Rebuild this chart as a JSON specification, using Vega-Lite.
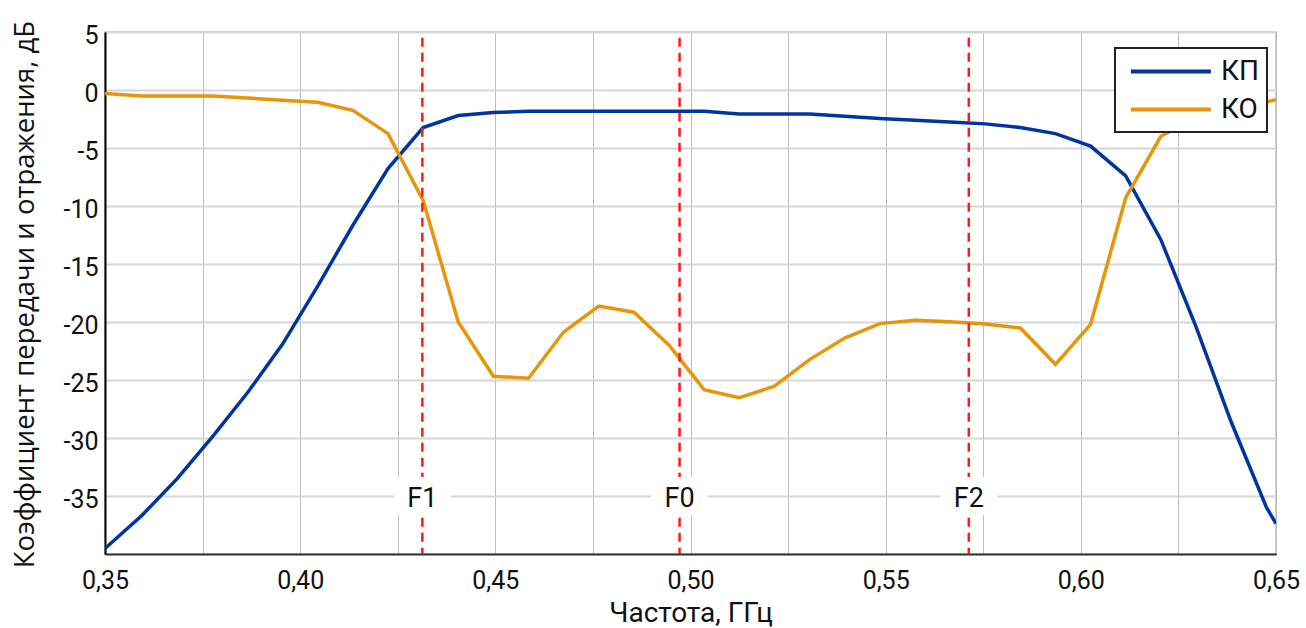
{
  "$schema": "https://vega.github.io/schema/vega-lite/v6.json",
  "width": 1171,
  "height": 522,
  "autosize": {"type": "none"},
  "padding": {"left": 105, "top": 32, "right": 30, "bottom": 74},
  "background": "white",
  "datasets": {
    "curves": [
      {"f": 0.35, "v": -39.53, "s": "КП"},
      {"f": 0.3595, "v": -36.66, "s": "КП"},
      {"f": 0.3685, "v": -33.5, "s": "КП"},
      {"f": 0.3775, "v": -29.9, "s": "КП"},
      {"f": 0.3865, "v": -26.1, "s": "КП"},
      {"f": 0.3955, "v": -21.9, "s": "КП"},
      {"f": 0.4045, "v": -16.9, "s": "КП"},
      {"f": 0.4135, "v": -11.66, "s": "КП"},
      {"f": 0.4225, "v": -6.78, "s": "КП"},
      {"f": 0.4315, "v": -3.24, "s": "КП"},
      {"f": 0.4405, "v": -2.2, "s": "КП"},
      {"f": 0.4495, "v": -1.95, "s": "КП"},
      {"f": 0.4585, "v": -1.84, "s": "КП"},
      {"f": 0.4675, "v": -1.84, "s": "КП"},
      {"f": 0.4765, "v": -1.84, "s": "КП"},
      {"f": 0.4855, "v": -1.84, "s": "КП"},
      {"f": 0.4945, "v": -1.84, "s": "КП"},
      {"f": 0.5035, "v": -1.84, "s": "КП"},
      {"f": 0.5125, "v": -2.07, "s": "КП"},
      {"f": 0.5215, "v": -2.07, "s": "КП"},
      {"f": 0.5305, "v": -2.07, "s": "КП"},
      {"f": 0.5395, "v": -2.26, "s": "КП"},
      {"f": 0.5485, "v": -2.45, "s": "КП"},
      {"f": 0.5575, "v": -2.6, "s": "КП"},
      {"f": 0.5665, "v": -2.75, "s": "КП"},
      {"f": 0.5755, "v": -2.92, "s": "КП"},
      {"f": 0.5845, "v": -3.24, "s": "КП"},
      {"f": 0.5935, "v": -3.76, "s": "КП"},
      {"f": 0.6025, "v": -4.84, "s": "КП"},
      {"f": 0.6115, "v": -7.41, "s": "КП"},
      {"f": 0.6205, "v": -12.9, "s": "КП"},
      {"f": 0.6295, "v": -20.4, "s": "КП"},
      {"f": 0.6385, "v": -28.6, "s": "КП"},
      {"f": 0.6475, "v": -35.95, "s": "КП"},
      {"f": 0.65, "v": -37.38, "s": "КП"},
      {"f": 0.35, "v": -0.31, "s": "КО"},
      {"f": 0.3595, "v": -0.52, "s": "КО"},
      {"f": 0.3685, "v": -0.52, "s": "КО"},
      {"f": 0.3775, "v": -0.52, "s": "КО"},
      {"f": 0.3865, "v": -0.7, "s": "КО"},
      {"f": 0.3955, "v": -0.88, "s": "КО"},
      {"f": 0.4045, "v": -1.06, "s": "КО"},
      {"f": 0.4135, "v": -1.75, "s": "КО"},
      {"f": 0.4225, "v": -3.76, "s": "КО"},
      {"f": 0.4315, "v": -9.51, "s": "КО"},
      {"f": 0.4405, "v": -20.0, "s": "КО"},
      {"f": 0.4495, "v": -24.68, "s": "КО"},
      {"f": 0.4585, "v": -24.85, "s": "КО"},
      {"f": 0.4675, "v": -20.86, "s": "КО"},
      {"f": 0.4765, "v": -18.62, "s": "КО"},
      {"f": 0.4855, "v": -19.16, "s": "КО"},
      {"f": 0.4945, "v": -22.0, "s": "КО"},
      {"f": 0.5035, "v": -25.83, "s": "КО"},
      {"f": 0.5125, "v": -26.52, "s": "КО"},
      {"f": 0.5215, "v": -25.54, "s": "КО"},
      {"f": 0.5305, "v": -23.24, "s": "КО"},
      {"f": 0.5395, "v": -21.38, "s": "КО"},
      {"f": 0.5485, "v": -20.14, "s": "КО"},
      {"f": 0.5575, "v": -19.85, "s": "КО"},
      {"f": 0.5665, "v": -19.97, "s": "КО"},
      {"f": 0.5755, "v": -20.17, "s": "КО"},
      {"f": 0.5845, "v": -20.52, "s": "КО"},
      {"f": 0.5935, "v": -23.65, "s": "КО"},
      {"f": 0.6025, "v": -20.2, "s": "КО"},
      {"f": 0.6115, "v": -9.28, "s": "КО"},
      {"f": 0.6205, "v": -3.99, "s": "КО"},
      {"f": 0.6295, "v": -2.4, "s": "КО"},
      {"f": 0.6385, "v": -1.5, "s": "КО"},
      {"f": 0.6475, "v": -1.03, "s": "КО"},
      {"f": 0.65, "v": -0.83, "s": "КО"}
    ],
    "markers": [
      {"f": 0.4313, "label": "F1"},
      {"f": 0.4972, "label": "F0"},
      {"f": 0.5713, "label": "F2"}
    ]
  },
  "layer": [
    {
      "data": {"name": "curves"},
      "mark": {"type": "line", "strokeWidth": 3.5, "clip": true},
      "encoding": {
        "x": {
          "field": "f",
          "type": "quantitative",
          "scale": {"domain": [0.35, 0.65], "nice": false, "zero": false},
          "axis": {
            "title": "Частота, ГГц",
            "values": [0.35, 0.375, 0.4, 0.425, 0.45, 0.475, 0.5, 0.525, 0.55, 0.575, 0.6, 0.625, 0.65],
            "labelExpr": "round(datum.value * 1000) % 50 == 0 ? replace(format(datum.value, '.2f'), '.', ',') : ''",
            "grid": true,
            "gridColor": "#bdbdbd",
            "gridWidth": 1,
            "ticks": false,
            "labelPadding": 14,
            "labelFontSize": 25,
            "labelFont": "Roboto",
            "labelColor": "#111111",
            "labelFlush": false,
            "labelOverlap": false,
            "titleFont": "Roboto",
            "titleFontSize": 28,
            "titleFontWeight": "normal",
            "titleColor": "#111111",
            "titleY": 67,
            "titleBaseline": "alphabetic",
            "domainColor": "#333333",
            "domainWidth": 2
          }
        },
        "y": {
          "field": "v",
          "type": "quantitative",
          "scale": {"domain": [-40, 5], "nice": false, "zero": false},
          "axis": {
            "title": "Коэффициент передачи и отражения, дБ",
            "values": [-35, -30, -25, -20, -15, -10, -5, 0, 5],
            "labelExpr": "'' + datum.value",
            "grid": true,
            "gridColor": "#d6d6d6",
            "gridWidth": 2,
            "ticks": false,
            "labelPadding": 7,
            "labelOffset": 3,
            "labelFontSize": 25,
            "labelFont": "Roboto",
            "labelColor": "#111111",
            "titleFont": "Open Sans",
            "titleFontSize": 27.5,
            "titleFontWeight": "normal",
            "titleColor": "#111111",
            "titleX": -72,
            "titleY": 262,
            "titleBaseline": "alphabetic",
            "domainColor": "#000000",
            "domainWidth": 2
          }
        },
        "color": {
          "field": "s",
          "type": "nominal",
          "scale": {"domain": ["КП", "КО"], "range": ["#0035a0", "#e6960a"]},
          "legend": {
            "title": null,
            "orient": "none",
            "legendX": 1010,
            "legendY": 16,
            "symbolType": "M-0.57,0H5.43",
            "symbolSize": 711,
            "symbolStrokeWidth": 4,
            "labelFontSize": 28,
            "labelFont": "Roboto",
            "labelColor": "#111111",
            "labelOffset": 67,
            "labelLimit": 200,
            "fillColor": "white",
            "strokeColor": "#222222",
            "padding": 8,
            "rowPadding": 8
          }
        }
      }
    },
    {
      "data": {"name": "markers"},
      "mark": {"type": "rule", "color": "#ff1a1a", "strokeWidth": 2.5, "strokeDash": [9, 6]},
      "encoding": {
        "x": {"field": "f", "type": "quantitative"},
        "y": {"datum": 4.5, "type": "quantitative"},
        "y2": {"datum": -40}
      }
    },
    {
      "data": {"name": "markers"},
      "mark": {"type": "point", "shape": "M-1.5,-1H1.5V1H-1.5Z", "size": 1444, "filled": true, "fill": "white", "opacity": 1, "strokeWidth": 0},
      "encoding": {
        "x": {"field": "f", "type": "quantitative"},
        "y": {"datum": -35, "type": "quantitative"}
      }
    },
    {
      "data": {"name": "markers"},
      "mark": {"type": "text", "fontSize": 27, "font": "Roboto", "color": "#111111", "baseline": "middle", "dy": 3},
      "encoding": {
        "x": {"field": "f", "type": "quantitative"},
        "y": {"datum": -35, "type": "quantitative"},
        "text": {"field": "label"}
      }
    }
  ],
  "config": {
    "view": {"stroke": "#555555", "strokeWidth": 1.2},
    "legend": {"strokeWidth": 2}
  }
}
